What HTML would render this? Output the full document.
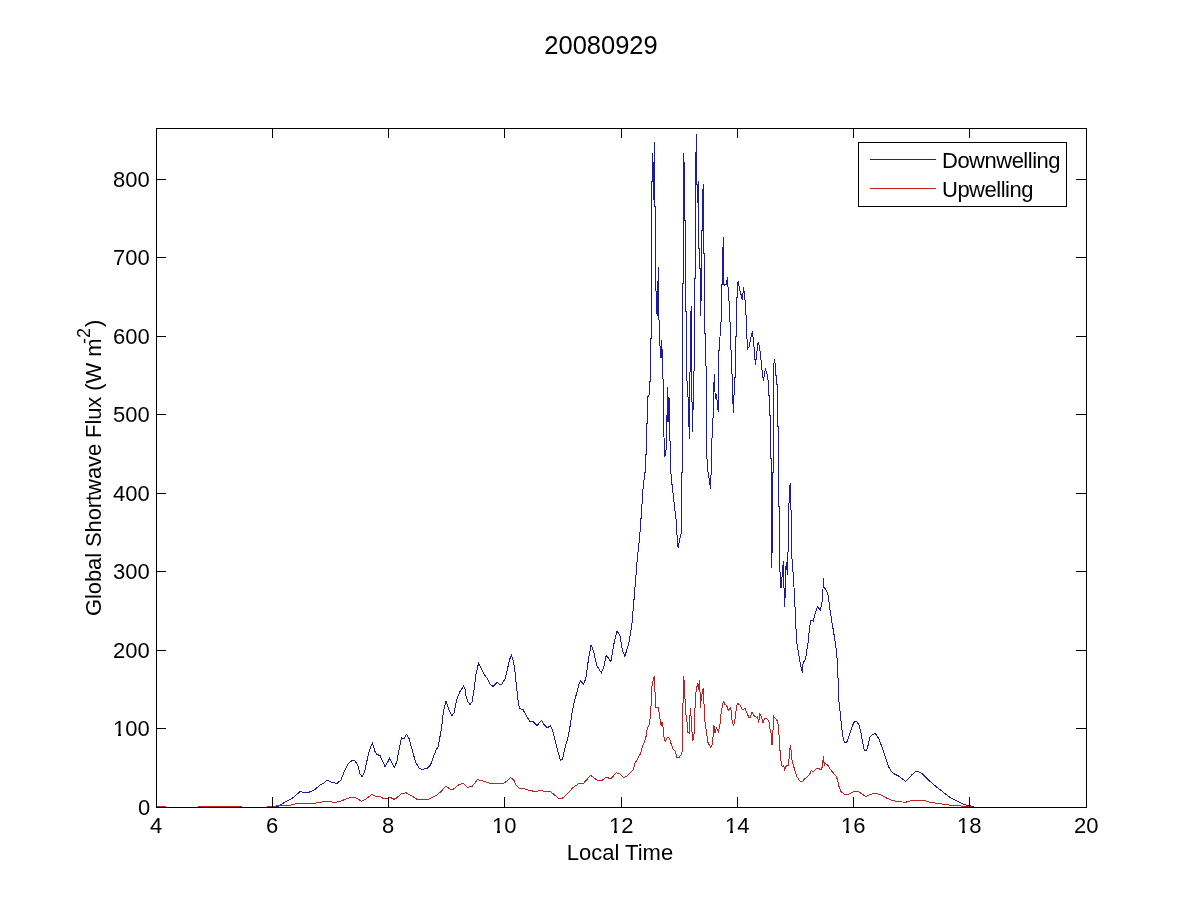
<!DOCTYPE html>
<html><head><meta charset="utf-8"><title>20080929</title>
<style>
html,body{margin:0;padding:0;background:#fff;}
body{width:1200px;height:900px;overflow:hidden;}
svg{display:block;}
text{font-family:"Liberation Sans",Arial,Helvetica,sans-serif;fill:#000;}
</style></head><body>
<svg width="1200" height="900" viewBox="0 0 1200 900">
<rect width="1200" height="900" fill="#fff"/>
<g fill="none" stroke-width="1" shape-rendering="crispEdges" stroke-linejoin="miter">
<polyline stroke="#1a1aa2" points="268,806.5 279,806 285,802 290,799.5 294,797 300,791.5 303,792.2 309,792.2 315,789.5 320,785 324,783 327,780.3 332,782.5 337,783.3 341,780 344,772 348,764 352,760.5 355,760.8 358,766 360,774 362,776.5 364.5,772 368,756 370.5,747 372.5,743.5 375,751.5 377,754.5 380,755.5 382.5,761 385,766.5 387.5,762.5 389.5,758.5 392.5,764 394.5,767.3 397,761 399,750 401.5,737.5 404,739 406.5,734.5 409,738.5 412,749 415.5,762 419,768 421.5,769.5 427,768.5 430.5,765 433,758 436,750 438,747 440.5,734 442,724 443.5,711 446,701.5 449,710 452,715.5 454,713 456.5,700 458,696 460.5,690.5 463.5,686.3 465,689 466,696 467.5,701 470,704.5 472,702 474,690 476,674 478.5,663.5 481,668 484,674 487,678 490,684 493,686.5 497,682.5 500,684.5 502,684 505,679 507.5,669 509.5,659.5 511.5,655.5 513.5,661 515,672 516.5,687 518,700 519.5,708.5 523,709.5 526,715 529.5,721.2 533,721.5 537,725.5 541.5,720.5 544,724.5 547,727.5 548.5,727 550.5,725.5 552.5,730 555,740 558,752 560.5,760.5 562.5,759 565,748 568,737 570.5,724 572,713 573.5,705 575,699 577,692 579,684 580.5,680.5 583.6,684.4 585.9,678.2 588.2,661.1 591,644.8 593.7,651.8 596.8,665.8 601.4,672.8 603.8,667.3 606.1,655.6 608.4,658 610.8,661.9 613.9,644 617,630.8 620.1,636.2 622.4,650.2 624.8,656.4 628.7,644 631.8,625.3 633.8,602 635.7,578.7 637.2,560 639.5,538.3 641.6,510.9 642.7,492.4 644.5,475 645.5,470 645.5,455 646.5,454 646.5,424 647.5,423 647.5,397 648.5,396 649.5,394 649.5,382 650.5,381 650.5,339 651.5,338 651.5,265 651.5,182 652.5,181 652.5,153 653.5,171 653.5,199 654.5,198 654.5,142 654.5,206 655.5,206 655.6,288.3 656.3,293 657.1,316.3 658.4,266.6 658.7,306.2 659.4,337.3 659.9,345 661,358.3 661.8,339.6 662.6,377 663.3,380 663.6,405 664,437.3 664.9,456.9 666.3,448 667,416 667.6,387.4 668,422.2 669,396.9 669.9,437.3 671.1,476.4 672.9,492.4 674.7,508.4 676.4,522.7 677.3,540.4 678.2,548.4 679.5,540.4 681.5,531.6 681.5,473 682.5,472 682.5,400 682.5,284 683.5,283 683.5,153 684.5,170 684.5,220 685.5,221 685.5,311 686.5,312 686.5,380 687.4,381.6 688.4,407 689.4,439 690.5,319.4 691.3,306.2 691.6,370 692.4,432 693.3,400 694.5,350 694.5,279 695.5,278 695.5,153 696.5,152 696.5,134 696.5,184 697.5,185 697.5,203 698.5,181 698.5,248 699.5,249 699.5,268 700.5,269 700.5,316 701.5,287 701.5,231 702.5,230 702.5,194 703.5,184 703.5,253 704.5,253 704.5,333 705.5,334 705.6,335 706.3,387.9 706.5,448 707.5,469.7 709.4,479.8 710.4,488.5 711.3,468.3 712.3,426.4 713.3,414.8 713.7,387.3 714.5,374.3 715.2,398.9 716.6,394.6 717.6,407.6 718.5,411.9 718.5,387.3 718.5,351 719.5,350 720.5,324 721.5,320 721.5,285 722.5,284 722.5,248 723.5,247 723.5,237 723.5,284 724.5,285 726.5,284.4 727.3,277.4 728.1,288.3 729.7,310.1 730.7,345.9 731.7,358.3 732.3,389.4 733.5,413.4 734.5,378 735.5,377 735.5,337 736.5,336 736.5,298 737.5,297 737.5,284 738.5,281 739.5,289.9 740.5,292 742.2,300.3 743.6,287.3 745.1,300.3 746.1,316.2 746.9,336.5 747.5,348.8 749.4,346.6 750.4,339.4 752.3,331.4 753.7,342.3 754.7,356.7 755.6,364.7 756.6,353.8 758.1,342.3 759.5,345.9 761,359.6 762.4,374 763.4,380.5 765.3,369 766.7,372.6 768.5,383 768.5,395 769.5,396 769.5,415 770.5,416 770.5,458 771.5,459 771.5,568 772.5,539 772.5,473 773.5,472 773.5,367 774.5,359 775.5,367 775.5,375 776.5,376 776.5,384 777.5,385 777.5,426 778.5,427 778.5,506 779.5,507 779.5,563.6 781,588.2 782.4,572.3 783.4,560.7 783.8,583.8 784.9,607 785.3,575.1 786.3,562.1 787.5,575.1 787.9,559.2 788.6,515.9 789.5,487 790.5,483 791.1,514.5 791.8,556.4 793.5,578 794.7,599.7 795.8,623.5 796.5,640.8 797.9,649.5 800.1,662.5 801.3,668.3 802.3,672.6 803.3,661 804.5,661.8 805.9,656.7 808.1,642.3 809.5,627.8 811,619.9 813.1,621.3 815.3,612.6 817.5,606.8 820.3,609.7 821.8,604.7 823,588.8 823.5,578.4 824,587.3 825.4,588.8 826.8,591.7 828.3,595.3 829.7,607.6 831.9,622 834.1,635 836,648 837,658.2 837.7,671.2 838.4,685.6 838.8,700 840.4,714.4 841.6,726.7 843.4,739.5 844.2,742 846.5,742.5 847.7,740.1 850.8,730.3 853.8,722.4 856.3,721.2 859.3,725.5 861.2,734 863.6,747.5 864.6,750.5 866,751 867.2,748.5 868.5,743.8 869.7,737.7 872.2,734.6 875.2,733.4 878.9,738.9 882.6,748.7 886.2,759.7 888.7,767 891.4,771.5 894.7,774.3 897.5,775.4 901.7,778.3 905.4,781.25 907.5,779.6 911.7,775 915,772.1 917.9,771.5 922.5,773.75 925.8,777.5 930.8,782.1 936.7,787.1 941.7,790.8 946.7,795 950.8,797.9 955.8,800.4 960.8,802.9 966.7,805.4 970,805.8 974.2,806.5"/>
<g stroke="#c02020">
<polyline points="156,806.5 166,806.5"/>
<polyline points="198,806.5 242,806.5"/>
<polyline points="267,806.5 280,805.8 290,805.2 297,803.5 315,803.2 325,801.5 330,801.5 334,802.5 340,801.5 347,798.5 352,797.2 355,797.5 361.5,801.2 366,799 372,794.5 376,796.5 380,796.5 383.5,798.5 388,798.5 390,797.2 394,799.3 396.5,798 401.5,793.5 406,792.8 411,795.5 417,799.3 428,799.3 431,798 437,795 441,791.5 445.5,786.3 451,789.5 453,789.5 458,785.2 463,783.2 467.5,787.5 472.5,786 477.5,779.5 483,781 489,783 495,783 503.75,783.1 506.25,781.5 510.6,777.5 513.75,780 516.25,785.6 519.4,788.1 523.75,788.5 528.75,790.25 533.75,791.25 537.5,791.25 540.6,790.4 546.25,791.9 549.4,791.25 552.5,793.1 558.1,798.1 561.9,798.5 566.25,795 572.5,788.1 578.75,783.5 583.75,783.1 590.6,775.25 597.5,780.6 601.25,781 605.6,777.5 611.25,778.5 616.25,772.75 620,773.75 623.75,777.5 627.5,775.6 633.1,770 635,763 637,760 640.5,753.7 642.1,747.4 644.2,742.6 645.8,737.9 646.9,730.5 647.9,727.3 649.5,724.1 650.6,713.6 651.4,698.8 651.6,688.2 652.7,681.9 653.7,678.2 654.6,676.1 654.8,691.4 655.6,692.5 655.8,707.2 658.5,707.8 660.1,719.9 661.1,725.2 662.2,722 663.2,728.4 664.3,740 665.3,741 668,736.8 669.6,738.9 671.2,744.2 673.3,749.5 675.4,751.1 677,757.9 679.1,757.4 681.2,754.8 682.2,751.6 682.8,723.1 683.3,676.1 684.4,681.9 684.9,696.7 685.6,711.5 687,722 688,732.6 689.1,733.1 689.6,719.9 690.5,708.3 691.2,718.9 692.3,736.8 692.8,741 693.9,736.8 694.7,717.8 695.4,696.7 696.5,688.2 697.5,683.5 698.6,690.3 699.3,680.3 700.2,694.6 700.7,708.3 701.2,696.7 702.3,692.5 703.1,688.2 703.9,702 704.9,721 706.5,732.6 708.1,743.1 709.7,745.3 710.8,747.4 712.3,744.2 713.4,732.6 713.9,725.2 715,732.6 716.3,728 718.4,731.7 719.8,726.2 720.8,715.6 721.9,708.2 723.4,701.4 725,704.5 726.6,705.1 728.2,710.3 729.8,708.8 730.8,707.7 731.9,719.8 733.5,726.2 735.1,718.8 736.1,710.3 737.2,703.5 739.8,704.5 742.5,709.8 745.1,708.2 746.7,712.5 748.8,717.2 750.4,717.2 752,711.9 754.1,715.6 756.7,717.7 757.8,716.7 758.5,723 759.9,713.5 761.5,716.7 763,723 764.6,718.8 766.7,718.8 768.9,720.9 770.4,731.5 771.5,734.6 772,745.2 772.9,731.5 773.9,716.7 775.7,718.8 777.3,720.9 778.4,726.2 779.4,741 780.5,757.9 782.1,766.3 783.6,765.8 784.7,769.5 786.3,765.8 787.9,765.3 788.7,765 789,759.4 789.6,750.3 790.5,745.1 791.1,750.3 791.7,758.8 792.6,763.1 794.2,768 796,774.1 797.2,777.2 800.3,781.5 802.7,781.1 804.6,778.7 807,777.2 809.4,774.7 811.3,770.8 813.1,771.7 815.6,769.2 817.4,768.3 819.2,768.9 821.1,769.5 822.3,766.8 822.9,761.3 823.4,756.4 823.8,761.3 824.4,765.6 824.7,762.5 826.6,764.3 828.4,765.6 830.2,769.2 833.3,772.9 836.3,776.6 837.6,780.2 838.6,785.4 841,791.5 844.7,794.5 848.3,794.2 854.4,791.2 858.7,791.7 862.4,794.5 866.1,796.4 870.3,794.5 875.2,793.3 878.9,794.2 883.8,796.4 886,797.8 889.9,799.4 891.7,800.4 897.5,801.5 905.4,802.3 912.5,800.4 923.3,800.2 929.2,802.1 936.7,803.2 943.3,804.3 949.2,805 956.7,805.4 964.2,806.5 971.7,806.8"/>
</g>
<rect x="156.5" y="128.5" width="930.0" height="679.0" stroke="#000"/>
<path stroke="#000" d="M156.5,807V797M156.5,128V138M272.5,807V797M272.5,128V138M388.5,807V797M388.5,128V138M504.5,807V797M504.5,128V138M621.5,807V797M621.5,128V138M737.5,807V797M737.5,128V138M853.5,807V797M853.5,128V138M969.5,807V797M969.5,128V138M1086.5,807V797M1086.5,128V138M156,807.5H166M1087,807.5H1076M156,728.5H166M1087,728.5H1076M156,650.5H166M1087,650.5H1076M156,571.5H166M1087,571.5H1076M156,493.5H166M1087,493.5H1076M156,414.5H166M1087,414.5H1076M156,336.5H166M1087,336.5H1076M156,257.5H166M1087,257.5H1076M156,179.5H166M1087,179.5H1076"/>
</g>
<g>
<g font-size="22">
<text x="150" y="833">4</text>
<text x="266" y="833">6</text>
<text x="382" y="833">8</text>
<text x="492" y="833">10</text>
<text x="609" y="833">12</text>
<text x="725" y="833">14</text>
<text x="841" y="833">16</text>
<text x="957" y="833">18</text>
<text x="1074" y="833">20</text>
<text x="138" y="815">0</text>
<text x="113" y="736">100</text>
<text x="113" y="658">200</text>
<text x="113" y="579">300</text>
<text x="113" y="501">400</text>
<text x="113" y="422">500</text>
<text x="113" y="344">600</text>
<text x="113" y="265">700</text>
<text x="113" y="187">800</text>
</g>
<g fill="#fff" shape-rendering="crispEdges"><rect x="493" y="831" width="4" height="3"/><rect x="500" y="831" width="4" height="3"/><rect x="610" y="831" width="4" height="3"/><rect x="617" y="831" width="4" height="3"/><rect x="726" y="831" width="4" height="3"/><rect x="733" y="831" width="4" height="3"/><rect x="842" y="831" width="4" height="3"/><rect x="849" y="831" width="4" height="3"/><rect x="958" y="831" width="4" height="3"/><rect x="965" y="831" width="4" height="3"/><rect x="114" y="734" width="4" height="3"/><rect x="121" y="734" width="4" height="3"/></g>
<text x="601" y="54" font-size="25.5" text-anchor="middle">20080929</text>
<text x="620" y="860" font-size="22" text-anchor="middle">Local Time</text>
<text transform="translate(101,616) rotate(-90)" font-size="22" letter-spacing="-0.1">Global Shortwave Flux (W m</text>
<text transform="translate(90,344) rotate(-90)" font-size="18">-2</text>
<text transform="translate(101,327) rotate(-90)" font-size="22">)</text>
</g>
<g shape-rendering="crispEdges">
<rect x="858.5" y="142.5" width="208" height="64" fill="#fff" stroke="#000"/>
<path d="M870,159.5H936" stroke="#1a1aa2"/>
<path d="M870,188.5H936" stroke="#c02020"/>
</g>
<g font-size="22">
<text x="942" y="168" letter-spacing="-0.5">Downwelling</text>
<text x="942" y="197" letter-spacing="-0.5">Upwelling</text>
</g>
</svg>
</body></html>
